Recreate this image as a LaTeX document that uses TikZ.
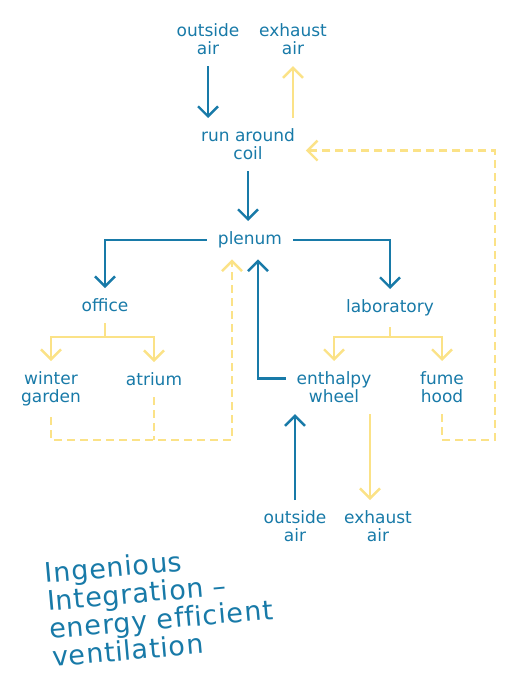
\documentclass[tikz,border=0pt]{standalone}
\usepackage{fontspec}
\setmainfont{DejaVu Sans}
\usetikzlibrary{arrows.meta}
\usetikzlibrary{calc}
\definecolor{airblue}{RGB}{24,122,168}
\definecolor{airyellow}{RGB}{251,226,135}

\begin{document}
\begin{tikzpicture}[x=1pt, y=-1pt,
    lbl/.style={text=airblue, align=center, anchor=north, inner sep=0pt, outer sep=11pt,
        font=\fontsize{17}{18}\selectfont},
    tip/.style={-{Straight Barb[length=10pt, width=20pt, line width=2.4pt]}},
    supply/.style={airblue, line width=2.4pt, tip},
    exhaust/.style={airyellow, line width=2.4pt},
    ret/.style={exhaust, dash pattern=on 8pt off 5pt}]
    \useasboundingbox (0,0) rectangle (512,682);
    % labels
    \node[lbl] (oa-top) at (208,13) {outside\\air};
    \node[lbl] (ea-top) at (293,13) {exhaust\\air};
    \node[lbl] (coil) at (248,118) {run around\\coil};
    \node[lbl] (plenum) at (250,221) {plenum};
    \node[lbl] (office) at (105,288) {office};
    \node[lbl] (lab) at (390,289) {laboratory};
    \node[lbl] (winter) at (51,361) {winter\\garden};
    \node[lbl] (atrium) at (154,362) {atrium};
    \node[lbl] (wheel) at (334,361) {enthalpy\\wheel};
    \node[lbl] (fume) at (442,361) {fume\\hood};
    \node[lbl] (oa-bot) at (295,500) {outside\\air};
    \node[lbl] (ea-bot) at (378,500) {exhaust\\air};
    \coordinate (office-split) at (105,337);
    \coordinate (lab-split) at (390,337);
    \coordinate (office-return) at (232,440);
    \coordinate (lab-return) at (495,440);
    % supply air
    \draw[supply] (oa-top) -- (oa-top |- coil.north);
    \draw[supply] (coil) -- (coil |- plenum.north);
    \draw[supply] (plenum) -| (office);
    \draw[supply] (plenum) -| (lab);
    \draw[supply] ([yshift=9pt]wheel.west) -| ([xshift=8pt]plenum.south);
    \draw[supply] (oa-bot) -- (oa-bot |- wheel.south);
    % exhaust air
    \draw[exhaust, tip] (ea-top |- coil.north) -- (ea-top);
    \draw[exhaust] (office) -- (office-split);
    \foreach \room in {winter,atrium}
        \draw[exhaust, tip] (office-split) -| (\room);
    \draw[exhaust] (lab) -- (lab-split);
    \foreach \room in {wheel,fume}
        \draw[exhaust, tip] (lab-split) -| (\room);
    \draw[exhaust, tip] ([xshift=-8pt]ea-bot.north |- wheel.south) -- ([xshift=-8pt]ea-bot.north);
    % return air
    \draw[ret, tip] (winter) |- (office-return) -- (office-return |- plenum.south);
    \draw[ret] (atrium) -- (atrium |- office-return);
    \draw[ret, tip] (fume) |- (lab-return) |- ([yshift=-6pt]coil.east);
    \node[text=airblue, align=left, rotate=5, inner sep=0pt,
        font=\fontsize{27}{28}\selectfont\addfontfeatures{LetterSpace=3,Ligatures=NoCommon}]
        (title) at (160,605) {Ingenious\\Integration –\\energy efficient\\ventilation};
\end{tikzpicture}
\end{document}
